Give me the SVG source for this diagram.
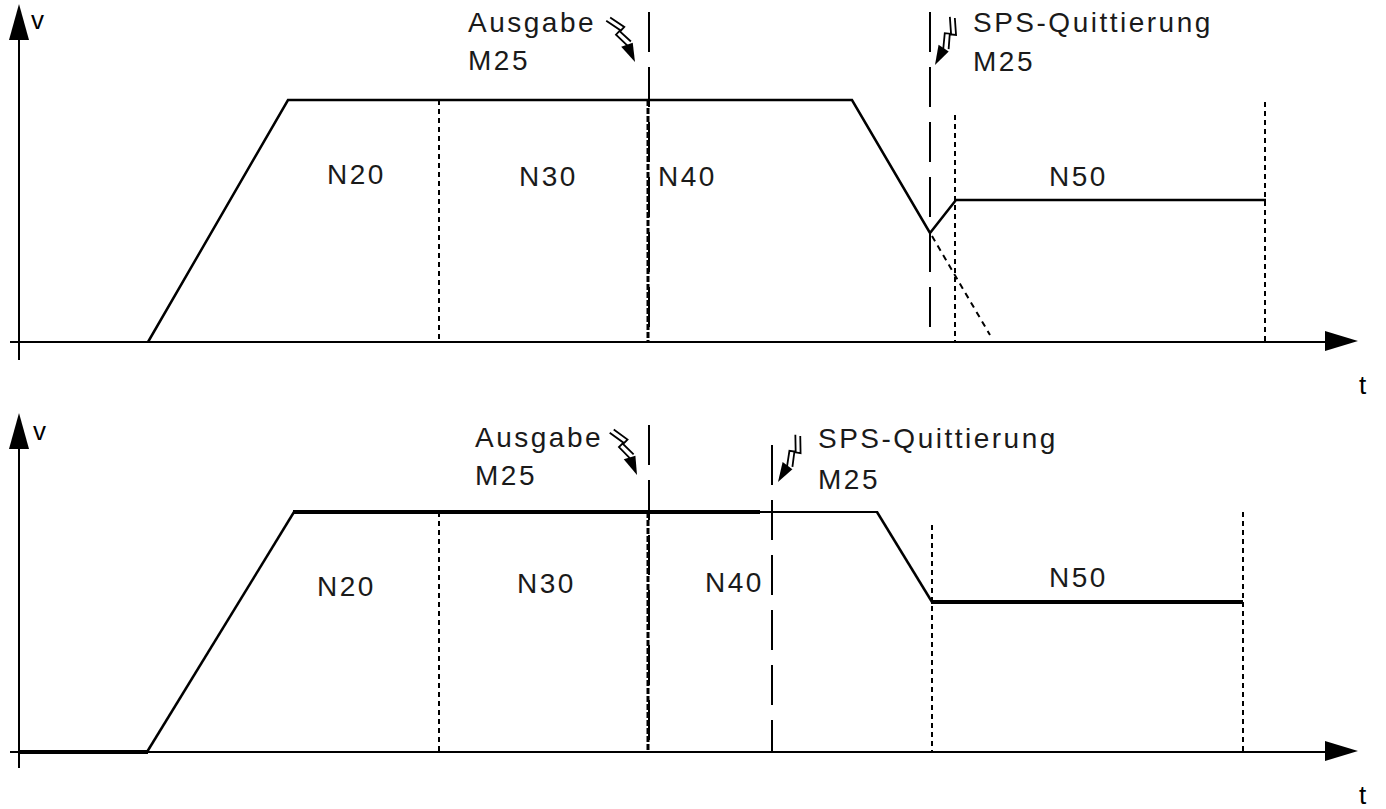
<svg xmlns="http://www.w3.org/2000/svg" width="1386" height="809" viewBox="0 0 1386 809">
<style>
.axis{stroke:#000;stroke-width:2;fill:none}
.prof{stroke:#000;stroke-width:2.5;fill:none;stroke-linejoin:miter}
.thick{stroke:#000;stroke-width:4;fill:none}
.dot{stroke:#000;stroke-width:2;fill:none;stroke-dasharray:5 4}
.ldash{stroke:#000;stroke-width:2;fill:none;stroke-dasharray:40 15}
.dense{stroke:#000;stroke-width:3;fill:none;stroke-dasharray:6 2}
.lbl{font-family:"Liberation Sans",Arial,sans-serif;font-size:28px;letter-spacing:2.5px;fill:#1a1a1a}
.ax{font-family:"Liberation Sans",Arial,sans-serif;font-size:26px;fill:#000}
.bolt{stroke:#000;stroke-width:1.8;fill:none}
</style>
<defs>
<g id="bolt">
<polyline class="bolt" points="-6,-50 2,-35 -4,-33 1,-18"/>
<polyline class="bolt" points="-1,-51 7,-36 1,-34 6,-20"/>
<polygon points="0,0 -5,-20 7,-18" fill="#000"/>
</g>
</defs>
<rect width="1386" height="809" fill="#fff"/>

<g id="top-chart">
<g id="top-axes">
<line class="axis" x1="19" y1="30" x2="19" y2="360"/>
<polygon points="19,4 29,40 9,40" fill="#000"/>
<line class="axis" x1="10" y1="342" x2="1335" y2="342"/>
<polygon points="1358,341 1325,331 1325,351" fill="#000"/>
<text class="ax" x="31" y="29">v</text>
<text class="ax" x="1359" y="394">t</text>
</g>
<g id="top-markers">
<line class="dot" x1="439" y1="100" x2="439" y2="342"/>
<line class="ldash" x1="649" y1="12" x2="649" y2="342"/>
<line class="dense" x1="648" y1="100" x2="648" y2="342"/>
<line class="ldash" x1="930" y1="12" x2="930" y2="342"/>
<line class="dot" x1="955" y1="115" x2="955" y2="342"/>
<line class="dot" x1="1265" y1="102" x2="1265" y2="342"/>
</g>
<g id="top-profile">
<polyline class="prof" points="148,342 288,100 852,100 930,233 956,200 1266,200"/>
<line stroke="#000" stroke-width="2" stroke-dasharray="6 5" x1="932" y1="236" x2="990" y2="335"/>
</g>
<g id="top-labels">
<text class="lbl" x="327" y="184">N20</text>
<text class="lbl" x="519" y="186">N30</text>
<text class="lbl" x="658" y="186">N40</text>
<text class="lbl" x="1049" y="186">N50</text>
</g>
<g id="top-ausgabe">
<text class="lbl" x="468" y="32">Ausgabe</text>
<text class="lbl" x="468" y="70">M25</text>
<use href="#bolt" transform="translate(635,62) rotate(-28)"/>
</g>
<g id="top-sps">
<text class="lbl" x="973" y="32">SPS-Quittierung</text>
<text class="lbl" x="973" y="71">M25</text>
<use href="#bolt" transform="translate(935,65) rotate(24)"/>
</g>
</g>

<g id="bottom-chart">
<g id="bottom-axes">
<line class="axis" x1="19" y1="440" x2="19" y2="768"/>
<polygon points="19,413 29,449 9,449" fill="#000"/>
<line class="axis" x1="10" y1="752" x2="1335" y2="752"/>
<polygon points="1358,751 1325,741 1325,761" fill="#000"/>
<text class="ax" x="33" y="440">v</text>
<text class="ax" x="1359" y="804">t</text>
</g>
<g id="bottom-markers">
<line class="dot" x1="439" y1="512" x2="439" y2="752"/>
<line class="ldash" x1="649" y1="425" x2="649" y2="752"/>
<line class="dense" x1="648" y1="512" x2="648" y2="752"/>
<line class="ldash" x1="772" y1="445" x2="772" y2="752"/>
<line class="dot" x1="932" y1="525" x2="932" y2="752"/>
<line class="dot" x1="1243" y1="512" x2="1243" y2="752"/>
</g>
<g id="bottom-profile">
<line class="thick" x1="19" y1="752" x2="148" y2="752"/>
<line class="prof" x1="147" y1="752" x2="294" y2="512"/>
<line class="thick" x1="293" y1="512" x2="760" y2="512"/>
<line stroke="#000" stroke-width="2" x1="760" y1="512" x2="878" y2="512"/>
<line class="prof" x1="877" y1="512" x2="932" y2="602"/>
<line class="thick" x1="931" y1="602" x2="1243" y2="602"/>
</g>
<g id="bottom-labels">
<text class="lbl" x="317" y="596">N20</text>
<text class="lbl" x="517" y="593">N30</text>
<text class="lbl" x="705" y="592">N40</text>
<text class="lbl" x="1049" y="587">N50</text>
</g>
<g id="bottom-ausgabe">
<text class="lbl" x="475" y="447">Ausgabe</text>
<text class="lbl" x="475" y="485">M25</text>
<use href="#bolt" transform="translate(637,475) rotate(-26)"/>
</g>
<g id="bottom-sps">
<text class="lbl" x="818" y="448">SPS-Quittierung</text>
<text class="lbl" x="818" y="489">M25</text>
<use href="#bolt" transform="translate(778,482) rotate(27)"/>
</g>
</g>
</svg>
